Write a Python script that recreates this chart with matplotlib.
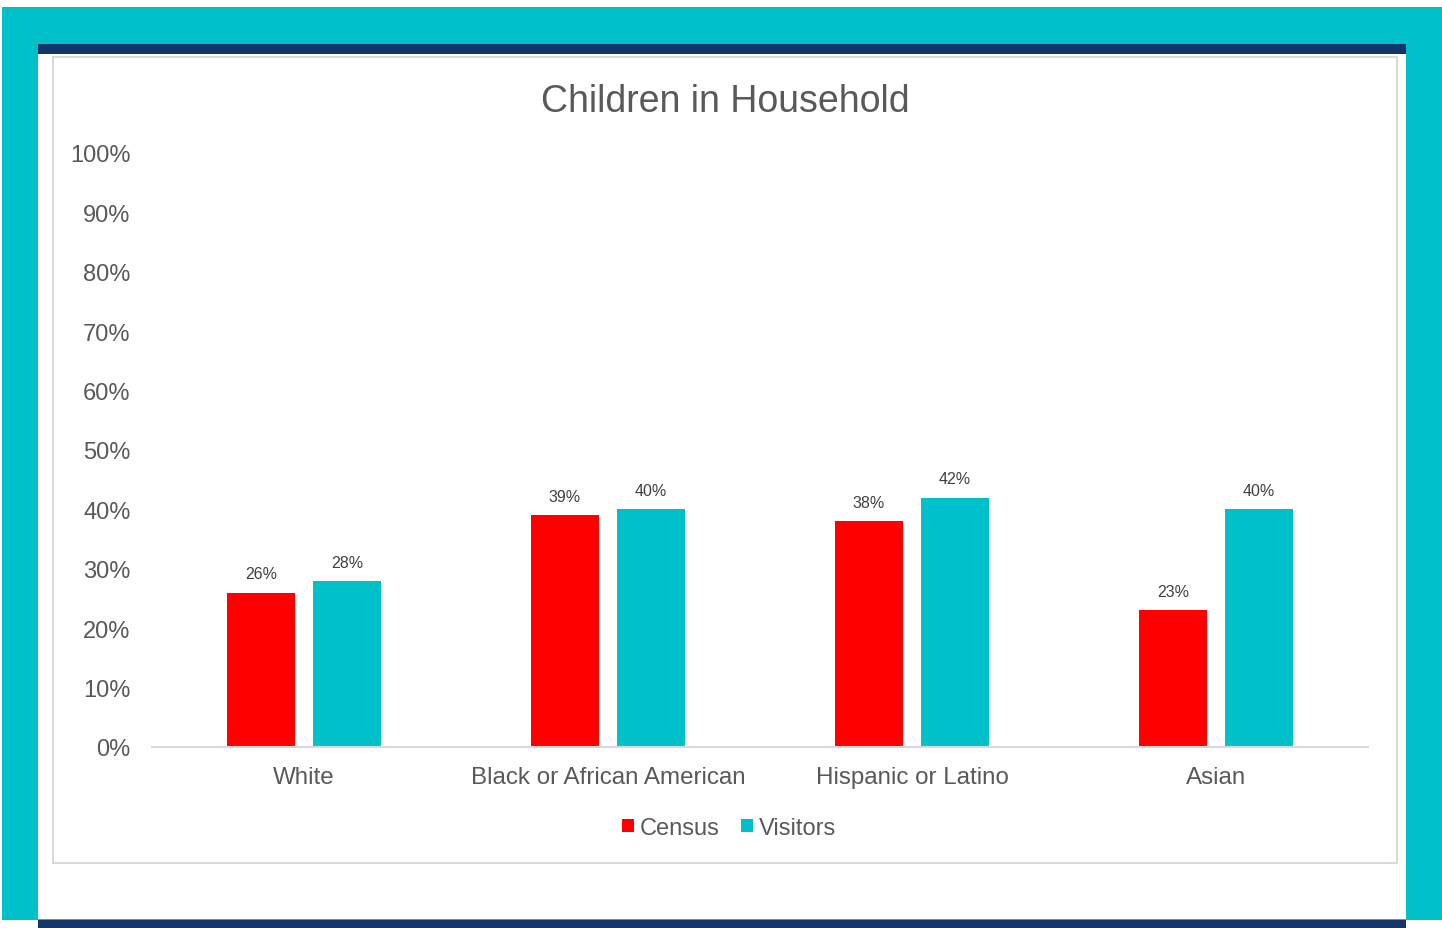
import matplotlib.pyplot as plt
from matplotlib.patches import Rectangle
import numpy as np

plt.rcParams['font.family'] = ['Liberation Sans', 'DejaVu Sans']

categories = ['White', 'Black or African American', 'Hispanic or Latino', 'Asian']
census = [0.26, 0.39, 0.38, 0.23]
visitors = [0.28, 0.40, 0.42, 0.40]
yticks = [0.0, 0.1, 0.2, 0.3, 0.4, 0.5, 0.6, 0.7, 0.8, 0.9, 1.0]

RED = '#FF0000'
TEAL = '#00C1C9'
NAVY = '#13366A'
GREY = '#595959'

W, H = 1442, 929
fig = plt.figure(figsize=(W / 100, H / 100), dpi=100)


def px_rect(x0, y0, x1, y1, **kw):
    # rectangle given in pixel coords, origin top-left
    fig.patches.append(Rectangle((x0 / W, 1 - y1 / H), (x1 - x0) / W, (y1 - y0) / H,
                                 transform=fig.transFigure, zorder=-1, **kw))


# outer frame
px_rect(2, 8, 1442, 921, facecolor=TEAL, edgecolor='none')
px_rect(38, 45, 1406, 920, facecolor='white', edgecolor='none')
px_rect(38, 45, 1406, 55, facecolor=NAVY, edgecolor='none')
px_rect(38, 921, 1406, 929, facecolor=NAVY, edgecolor='none')
px_rect(53, 58, 1397, 864, facecolor='none', edgecolor='#D9D9D9', linewidth=1.5)

ax = fig.add_axes([152 / W, 1 - 748 / H, (1368 - 152) / W, (748 - 154) / H])
ax.set_facecolor('none')
ax.set_zorder(2)

x = np.arange(len(categories))
bw = 0.224
off = 0.1414
b1 = ax.bar(x - off, census, bw, color=RED, label='Census')
b2 = ax.bar(x + off, visitors, bw, color=TEAL, label='Visitors')

for bars, vals in ((b1, census), (b2, visitors)):
    for rect, v in zip(bars, vals):
        ax.annotate(f'{v:.0%}', (rect.get_x() + rect.get_width() / 2, v),
                    xytext=(0, 8), textcoords='offset points',
                    ha='center', va='bottom', fontsize=11.5, color='#404040')

ax.set_xlim(-0.5, len(categories) - 0.5)
ax.set_ylim(0, 1)
ax.set_yticks(yticks)
ax.set_yticklabels([f'{t:.0%}' for t in yticks])
ax.set_xticks(x)
ax.set_xticklabels(categories)
ax.tick_params(axis='both', length=0, labelcolor=GREY)
ax.tick_params(axis='y', pad=15.5, labelsize=17)
ax.tick_params(axis='x', pad=14, labelsize=17.4)
for s in ('top', 'right', 'left'):
    ax.spines[s].set_visible(False)
ax.spines['bottom'].set_color('#D9D9D9')
ax.spines['bottom'].set_linewidth(1.5)

fig.text(725 / W, 1 - 102 / H, 'Children in Household', ha='center', va='center',
         fontsize=27, color=GREY)

fig.legend(handles=[b1, b2], loc='center', bbox_to_anchor=(729 / W, 1 - 829 / H),
           ncol=2, frameon=False, fontsize=17, labelcolor=GREY,
           handlelength=0.5, handleheight=0.5, handletextpad=0.25, columnspacing=0.9)

fig.savefig('out.png', dpi=100)
